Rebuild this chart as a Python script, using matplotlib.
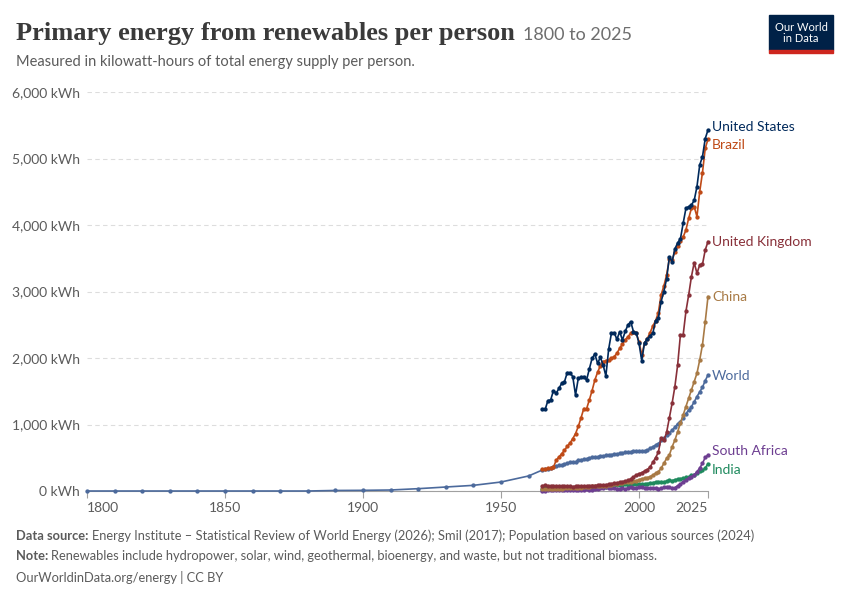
import numpy as np
import matplotlib.pyplot as plt
from matplotlib.patches import Rectangle

# --- data (kWh per person) ---
years_early = [1800, 1810, 1820, 1830, 1840, 1850, 1860, 1870, 1880, 1890,
               1900, 1910, 1920, 1930, 1940, 1950, 1960]
world_early = [0, 0, 0, 0, 0, 0, 0, 0, 0, 8, 10, 15, 35, 60, 85, 135, 226]

years = list(range(1965, 2026))

world = [316, 325, 335, 345, 360, 375, 385, 395, 400, 420,
         430, 435, 440, 460, 470, 475, 485, 495, 505, 510,
         515, 520, 525, 535, 535, 545, 555, 555, 565, 565,
         580, 585, 590, 595, 600, 605, 600, 605, 610, 640,
         665, 690, 710, 760, 790, 840, 870, 915, 960, 1010,
         1045, 1100, 1160, 1220, 1270, 1340, 1420, 1490, 1560, 1660,
         1745]
united_states = [1228, 1228, 1359, 1369, 1509, 1469, 1544, 1619, 1644, 1780,
                 1780, 1720, 1444, 1694, 1710, 1720, 1669, 1835, 1995, 2060,
                 1920, 2011, 1895, 1730, 2131, 2371, 2381, 2281, 2396, 2271,
                 2400, 2497, 2547, 2396, 2381, 2221, 1960, 2231, 2281, 2331,
                 2371, 2562, 2597, 2847, 3000, 3190, 3520, 3450, 3640, 3730,
                 3790, 4026, 4250, 4276, 4301, 4370, 4577, 4903, 5028, 5300,
                 5429]
brazil = [325, 330, 340, 350, 360, 461, 511, 561, 611, 671,
          721, 787, 862, 970, 1100, 1240, 1235, 1369, 1509, 1669,
          1785, 1885, 1945, 1960, 1970, 1995, 2020, 2071, 2146, 2211,
          2271, 2321, 2371, 2396, 2371, 2246, 2045, 2221, 2290, 2380,
          2480, 2560, 2680, 2950, 3080, 3250, 3490, 3470, 3600, 3680,
          3760, 3820, 3925, 4101, 4251, 4276, 4126, 4502, 4788, 5154,
          5289]
united_kingdom = [80, 85, 80, 78, 80, 75, 72, 70, 70, 72,
                  70, 65, 72, 70, 72, 75, 78, 80, 82, 80,
                  85, 90, 92, 95, 100, 110, 115, 125, 130, 140,
                  150, 160, 180, 210, 240, 260, 275, 300, 320, 360,
                  430, 500, 580, 790, 760, 880, 1100, 1320, 1570, 1895,
                  2346, 2346, 2700, 2948, 3224, 3434, 3274, 3399, 3409, 3625,
                  3750]
china = [25, 28, 27, 28, 30, 32, 34, 36, 38, 40,
         42, 42, 44, 48, 52, 55, 58, 64, 68, 70,
         72, 74, 76, 80, 86, 95, 98, 104, 115, 125,
         130, 135, 140, 150, 155, 170, 185, 190, 200, 215,
         240, 265, 290, 340, 415, 490, 540, 665, 765, 890,
         1018, 1143, 1270, 1395, 1520, 1645, 1770, 1970, 2200, 2546,
         2923]
south_africa = [5, 6, 8, 8, 10, 10, 12, 12, 14, 14,
                15, 16, 18, 20, 20, 22, 24, 22, 20, 25,
                30, 40, 50, 55, 48, 50, 45, 30, 35, 40,
                30, 45, 55, 50, 50, 60, 55, 50, 40, 45,
                50, 45, 30, 40, 55, 60, 55, 40, 50, 80,
                100, 140, 160, 190, 215, 240, 290, 345, 416, 505,
                540]
india = [35, 38, 40, 42, 42, 42, 45, 44, 46, 45,
         48, 52, 50, 55, 54, 52, 55, 54, 55, 58,
         55, 58, 55, 65, 72, 80, 85, 85, 88, 95,
         98, 96, 100, 105, 108, 108, 105, 105, 112, 120,
         125, 135, 140, 140, 138, 148, 160, 155, 170, 178,
         185, 190, 205, 215, 235, 245, 265, 295, 310, 345,
         410]

series = [
    ("India", india, "#1f8a5e", 315),
    ("South Africa", south_africa, "#6d3e91", 600),
    ("World", world_early + world, "#4c6a9c", 1730),
    ("China", china, "#a87a45", 2920),
    ("United Kingdom", united_kingdom, "#883039", 3745),
    ("Brazil", brazil, "#bf4a17", 5200),
    ("United States", united_states, "#00295b", 5480),
]

xticks = [1800, 1850, 1900, 1950, 2000, 2025]
yticks = [0, 1000, 2000, 3000, 4000, 5000, 6000]

grey = "#5b5b5b"
plt.rcParams['font.family'] = ['Lato', 'DejaVu Sans']

fig = plt.figure(figsize=(8.5, 6), dpi=100)
ax = fig.add_axes([87 / 850, 1 - 491 / 600, (708 - 87) / 850, (491 - 92) / 600])

for name, vals, col, ylab in series:
    xs = years_early + years if name == "World" else years
    ax.plot(xs, vals, color=col, lw=1.2, marker="o", ms=2.1, zorder=3,
            clip_on=False)
    ax.text(2026.5, ylab, name, color=col, fontsize=10, va="center",
            ha="left")

ax.set_xlim(1800, 2025)
ax.set_ylim(0, 6000)
for s in ["top", "right", "left"]:
    ax.spines[s].set_visible(False)
ax.spines["bottom"].set_color("#a0a0a0")
ax.spines["bottom"].set_zorder(1)

ax.set_yticks(yticks)
ax.set_yticklabels([f"{v:,} kWh" for v in yticks])
ax.tick_params(axis="y", length=0, pad=5, labelsize=10, labelcolor=grey)
ax.grid(axis="y", color="#dddddd", ls=(0, (4, 3)), lw=0.8)
ax.set_axisbelow(True)

ax.set_xticks(xticks)
ax.set_xticklabels([str(v) for v in xticks])
ax.tick_params(axis="x", length=5, color="#a0a0a0", labelsize=10,
               labelcolor=grey, pad=3)
labs = ax.get_xticklabels()
labs[0].set_ha("left")
labs[-1].set_ha("right")

# title block
fig.canvas.draw()
r = fig.canvas.get_renderer()
title = fig.text(16 / 850, 1 - 40 / 600, "Primary energy from renewables per person",
                 fontsize=17, fontweight="bold", color="#3a3a3a",
                 family=["Liberation Serif", "DejaVu Serif"])
w = title.get_window_extent(r).width
title.set_fontsize(17 * 501 / w)
tb = title.get_window_extent(r)
fig.text((tb.x1 + 8) / 850, 1 - 40 / 600, "1800 to 2025", fontsize=13,
         color="#6e6e6e")
fig.text(16 / 850, 1 - 66 / 600,
         "Measured in kilowatt-hours of total energy supply per person.",
         fontsize=10.5, color=grey)

# logo
fig.patches.append(Rectangle((769 / 850, 1 - 50 / 600), 64 / 850, 35 / 600,
                             transform=fig.transFigure, color="#002147"))
fig.patches.append(Rectangle((769 / 850, 1 - 53 / 600), 64 / 850, 3 / 600,
                             transform=fig.transFigure, color="#ce261e"))
fig.text(801 / 850, 1 - 33 / 600, "Our World\nin Data", color="white",
         fontsize=8, ha="center", va="center", linespacing=1.0)

# footer
def footer(y, bold, rest):
    t = fig.text(16 / 850, 1 - y / 600, bold, fontsize=9.3, fontweight="bold",
                 color=grey)
    if rest:
        bb = t.get_window_extent(r)
        fig.text((bb.x1 + 3) / 850, 1 - y / 600, rest, fontsize=9.3, color=grey)

footer(540, "Data source:", "Energy Institute \u2013 Statistical Review of World Energy (2026); "
       "Smil (2017); Population based on various sources (2024)")
footer(560, "Note:", "Renewables include hydropower, solar, wind, geothermal, "
       "bioenergy, and waste, but not traditional biomass.")
fig.text(16 / 850, 1 - 582 / 600, "OurWorldinData.org/energy | CC BY",
         fontsize=9.3, color=grey)

fig.savefig("out.png", dpi=100)
